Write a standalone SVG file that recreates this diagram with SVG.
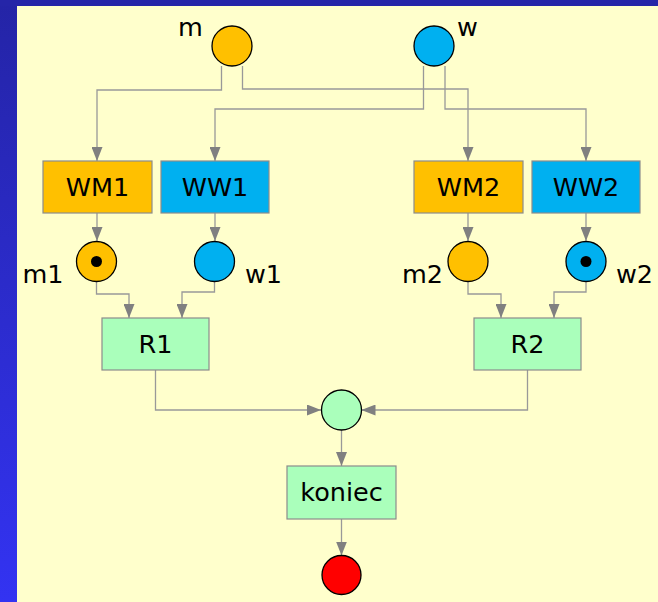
<svg xmlns="http://www.w3.org/2000/svg" width="658" height="602" viewBox="0 0 658 602">
<defs>
<linearGradient id="bg" x1="0" y1="0" x2="0" y2="1">
<stop offset="0" stop-color="#2424a6"/>
<stop offset="1" stop-color="#3333f2"/>
</linearGradient>
<marker id="ah" viewBox="0 0 14 11" refX="14" refY="5.5" markerWidth="14" markerHeight="11" markerUnits="userSpaceOnUse" orient="auto">
<path d="M0,0 L14,5.5 L0,11 Z" fill="#808080"/>
</marker>
<style>
.conn{fill:none;stroke:#999999;stroke-width:1.3;marker-end:url(#ah)}
.box{stroke:#8c8c8c;stroke-width:1.2}
.place{stroke:#000;stroke-width:1.3}
.t{font-family:"DejaVu Sans",Verdana,sans-serif;font-size:25.5px;fill:#000}
.lbl{font-family:"DejaVu Sans",Verdana,sans-serif;font-size:25.5px;fill:#000}
.orange{fill:#ffc000}
.blue{fill:#00b0f0}
.green{fill:#aaffbb}
</style>
</defs>
<rect x="0" y="0" width="658" height="602" fill="url(#bg)"/>
<rect x="0" y="0" width="658" height="6" fill="#2525a8"/>
<rect x="17" y="6" width="641" height="596" fill="#ffffcc"/>

<g id="connectors">
<path class="conn" d="M221.5,66 V90 H97 V161"/>
<path class="conn" d="M242.5,66 V89 H468 V161"/>
<path class="conn" d="M423.5,66 V109 H215 V161"/>
<path class="conn" d="M445,66 V109 H586 V161"/>
<path class="conn" d="M97,213 V241"/>
<path class="conn" d="M215,213 V241"/>
<path class="conn" d="M468,213 V241"/>
<path class="conn" d="M586,213 V241"/>
<path class="conn" d="M96.5,281 V294 H129 V318"/>
<path class="conn" d="M214.5,281 V292 H182 V318"/>
<path class="conn" d="M468,281 V294 H501 V318"/>
<path class="conn" d="M586,281 V292 H554 V318"/>
<path class="conn" d="M155.5,370 V410 H321"/>
<path class="conn" d="M527.5,370 V410 H361.5"/>
<path class="conn" d="M341.5,430 V466"/>
<path class="conn" d="M341.5,519 V555.5"/>
</g>

<g id="m">
<circle class="place orange" cx="232" cy="46" r="20"/>
<text class="lbl" x="178" y="36">m</text>
</g>
<g id="w">
<circle class="place blue" cx="434" cy="46" r="20"/>
<text class="lbl" x="457" y="36">w</text>
</g>

<g id="WM1">
<rect class="box orange" x="43" y="161" width="109" height="52"/>
<text class="t" x="97.5" y="196" text-anchor="middle">WM1</text>
</g>
<g id="WW1">
<rect class="box blue" x="161" y="161" width="108" height="52"/>
<text class="t" x="215" y="196" text-anchor="middle">WW1</text>
</g>
<g id="WM2">
<rect class="box orange" x="414" y="161" width="109" height="52"/>
<text class="t" x="468.5" y="196" text-anchor="middle">WM2</text>
</g>
<g id="WW2">
<rect class="box blue" x="532" y="161" width="108" height="52"/>
<text class="t" x="586" y="196" text-anchor="middle">WW2</text>
</g>

<g id="m1">
<circle class="place orange" cx="96.5" cy="261.5" r="20"/>
<circle cx="96.5" cy="261.5" r="5.5" fill="#000"/>
<text class="lbl" x="22.5" y="283">m1</text>
</g>
<g id="w1">
<circle class="place blue" cx="214.5" cy="261.5" r="20"/>
<text class="lbl" x="245" y="283">w1</text>
</g>
<g id="m2">
<circle class="place orange" cx="468" cy="261.5" r="20"/>
<text class="lbl" x="402" y="283">m2</text>
</g>
<g id="w2">
<circle class="place blue" cx="586" cy="261.5" r="20"/>
<circle cx="586" cy="261.5" r="5.5" fill="#000"/>
<text class="lbl" x="616" y="283">w2</text>
</g>

<g id="R1">
<rect class="box green" x="102" y="318" width="107" height="52"/>
<text class="t" x="155.5" y="353" text-anchor="middle">R1</text>
</g>
<g id="R2">
<rect class="box green" x="474" y="318" width="107" height="52"/>
<text class="t" x="527.5" y="353" text-anchor="middle">R2</text>
</g>

<g id="join">
<circle class="place green" cx="341.5" cy="410" r="20"/>
</g>
<g id="koniec">
<rect class="box green" x="287" y="466" width="109" height="53"/>
<text class="t" x="341.5" y="501" text-anchor="middle">koniec</text>
</g>
<g id="end">
<circle class="place" fill="#ff0000" cx="341.5" cy="575" r="19.5"/>
</g>
</svg>
